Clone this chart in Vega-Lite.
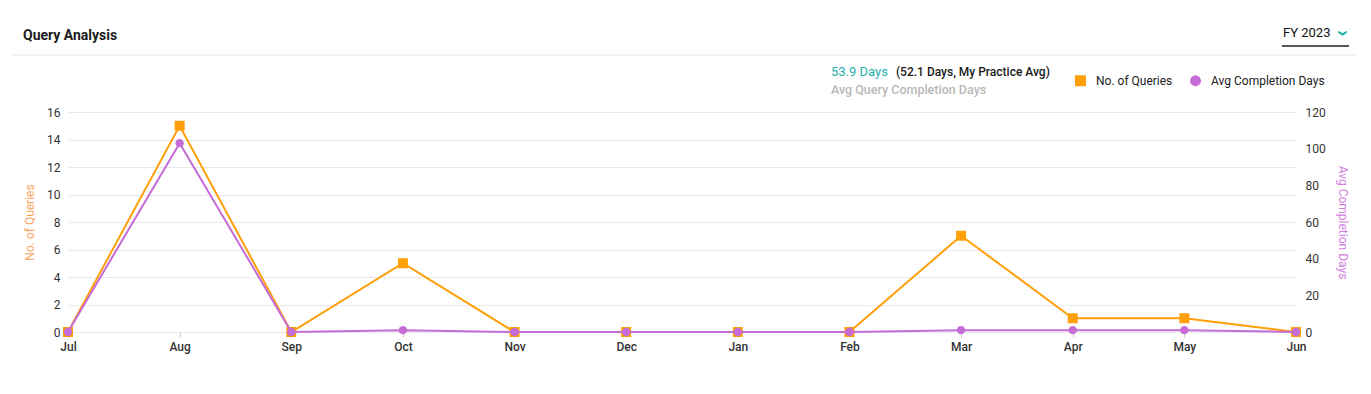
{
  "$schema": "https://vega.github.io/schema/vega-lite/v6.json",
  "width": 1228,
  "height": 220,
  "autosize": {"type": "none"},
  "padding": {"left": 68, "top": 112, "right": 75, "bottom": 62},
  "background": "white",
  "config": {
    "font": "Roboto",
    "view": {"stroke": null},
    "legend": {
      "orient": "none",
      "legendX": 1006,
      "legendY": -38,
      "direction": "horizontal",
      "labelFontSize": 12,
      "labelColor": "#222222",
      "labelFont": "Roboto",
      "symbolSize": 120,
      "columnPadding": 16,
      "labelOffset": 9,
      "padding": 0
    }
  },
  "data": {
    "values": [
      {"month": "Jul", "queries": 0, "avg_days": 0},
      {"month": "Aug", "queries": 15, "avg_days": 103},
      {"month": "Sep", "queries": 0, "avg_days": 0},
      {"month": "Oct", "queries": 5, "avg_days": 1},
      {"month": "Nov", "queries": 0, "avg_days": 0},
      {"month": "Dec", "queries": 0, "avg_days": 0},
      {"month": "Jan", "queries": 0, "avg_days": 0},
      {"month": "Feb", "queries": 0, "avg_days": 0},
      {"month": "Mar", "queries": 7, "avg_days": 1},
      {"month": "Apr", "queries": 1, "avg_days": 1},
      {"month": "May", "queries": 1, "avg_days": 1},
      {"month": "Jun", "queries": 0, "avg_days": 0},
      {"note": "title", "label": "Query Analysis", "month": "Jul", "queries": 0, "avg_days": 0},
      {"note": "fy", "label": "FY 2023", "month": "Jul", "queries": 0, "avg_days": 0},
      {"note": "chevron", "label": "›", "month": "Jul", "queries": 0, "avg_days": 0},
      {"note": "avg", "label": "53.9 Days", "month": "Jul", "queries": 0, "avg_days": 0},
      {"note": "practice", "label": "(52.1 Days, My Practice Avg)", "month": "Jul", "queries": 0, "avg_days": 0},
      {"note": "caption", "label": "Avg Query Completion Days", "month": "Jul", "queries": 0, "avg_days": 0}
    ]
  },
  "encoding": {
    "x": {
      "field": "month",
      "type": "ordinal",
      "scale": {"type": "point", "padding": 0, "domain": ["Jul","Aug","Sep","Oct","Nov","Dec","Jan","Feb","Mar","Apr","May","Jun"]},
      "axis": {
        "title": null,
        "labelAngle": 0,
        "labelFontSize": 12,
        "labelFontWeight": 500,
        "labelColor": "#333333",
        "tickColor": "#cccccc",
        "tickSize": 5,
        "domain": false,
        "grid": false,
        "labelPadding": 4
      }
    }
  },
  "layer": [
    {
      "encoding": {
        "y": {
          "field": "queries",
          "type": "quantitative",
          "scale": {"domain": [0, 16], "nice": false},
          "axis": {
            "orient": "left",
            "values": [0, 2, 4, 6, 8, 10, 12, 14, 16],
            "title": "No. of Queries",
            "titleColor": "#f8a460",
            "titleFontWeight": "normal",
            "titleFontSize": 12,
            "titlePadding": 10,
            "labelFontSize": 12,
            "labelColor": "#333333",
            "domain": false,
            "ticks": false,
            "labelPadding": 8,
            "gridColor": "#e9e9e9"
          }
        }
      },
      "layer": [
        {
          "transform": [{"filter": "!isValid(datum.note)"}],
          "mark": {"type": "line", "color": "#ff9f0a", "strokeWidth": 2}
        },
        {
          "transform": [{"filter": "!isValid(datum.note)"}],
          "mark": {"type": "point", "filled": true, "size": 100, "opacity": 1},
          "encoding": {
            "color": {
              "datum": "No. of Queries",
              "scale": {"domain": ["No. of Queries", "Avg Completion Days"], "range": ["#ff9f0a", "#c56cd6"]},
              "legend": {
                "title": null,
                "encode": {
                  "symbols": {
                    "update": {
                      "fill": {"signal": "datum.value === 'Avg Completion Days' ? 'white' : '#ff9f0a'"},
                      "stroke": {"signal": "datum.value === 'Avg Completion Days' ? '#c56cd6' : '#ff9f0a'"},
                      "strokeWidth": {"signal": "datum.value === 'Avg Completion Days' ? 3 : 0"}
                    }
                  }
                }
              }
            },
            "shape": {
              "datum": "No. of Queries",
              "scale": {"domain": ["No. of Queries", "Avg Completion Days"], "range": ["square", "circle"]},
              "legend": {"title": null}
            }
          }
        },
        {
          "transform": [{"filter": {"field": "note", "equal": "title"}}],
          "mark": {"type": "text", "align": "left", "baseline": "middle", "fontSize": 14, "fontWeight": "bold", "color": "#1b1b1b", "xOffset": -45, "yOffset": -76},
          "encoding": {"x": {"datum": "Jul"}, "y": {"datum": 16}, "text": {"field": "label"}}
        },
        {
          "transform": [{"filter": {"field": "note", "equal": "fy"}}],
          "mark": {"type": "text", "align": "left", "baseline": "middle", "fontSize": 13, "color": "#111111", "xOffset": -13, "yOffset": -79},
          "encoding": {"x": {"datum": "Jun"}, "y": {"datum": 16}, "text": {"field": "label"}}
        },
        {
          "transform": [{"filter": {"field": "note", "equal": "chevron"}}],
          "mark": {"type": "text", "align": "center", "baseline": "middle", "fontSize": 22, "fontWeight": "bold", "angle": 90, "color": "#1fb2ac", "xOffset": 48, "yOffset": -79},
          "encoding": {"x": {"datum": "Jun"}, "y": {"datum": 16}, "text": {"field": "label"}}
        },
        {
          "transform": [{"filter": {"field": "note", "equal": "fy"}}],
          "mark": {"type": "rule", "color": "#222222", "strokeWidth": 1.5, "xOffset": -14, "x2Offset": 53, "yOffset": -66},
          "encoding": {"x": {"datum": "Jun"}, "x2": {"datum": "Jun"}, "y": {"datum": 16}}
        },
        {
          "transform": [{"filter": {"field": "note", "equal": "title"}}],
          "mark": {"type": "rule", "color": "#e3e3e3", "strokeWidth": 1, "xOffset": -57, "x2Offset": 61, "yOffset": -57},
          "encoding": {"x": {"datum": "Jul"}, "x2": {"datum": "Jun"}, "y": {"datum": 16}}
        },
        {
          "transform": [{"filter": {"field": "note", "equal": "avg"}}],
          "mark": {"type": "text", "align": "left", "baseline": "middle", "fontSize": 13, "fontWeight": "normal", "color": "#1fb0aa", "xOffset": -18.5, "yOffset": -40},
          "encoding": {"x": {"datum": "Feb"}, "y": {"datum": 16}, "text": {"field": "label"}}
        },
        {
          "transform": [{"filter": {"field": "note", "equal": "practice"}}],
          "mark": {"type": "text", "align": "left", "baseline": "middle", "fontSize": 12, "fontWeight": 500, "color": "#1a1a1a", "xOffset": 46.5, "yOffset": -40},
          "encoding": {"x": {"datum": "Feb"}, "y": {"datum": 16}, "text": {"field": "label"}}
        },
        {
          "transform": [{"filter": {"field": "note", "equal": "caption"}}],
          "mark": {"type": "text", "align": "left", "baseline": "middle", "fontSize": 12.5, "fontWeight": 500, "color": "#b8b8b8", "xOffset": -18.5, "yOffset": -22},
          "encoding": {"x": {"datum": "Feb"}, "y": {"datum": 16}, "text": {"field": "label"}}
        }
      ]
    },
    {
      "transform": [{"filter": "!isValid(datum.note)"}],
      "encoding": {
        "y": {
          "field": "avg_days",
          "type": "quantitative",
          "scale": {"domain": [0, 120], "nice": false},
          "axis": {
            "orient": "right",
            "values": [0, 20, 40, 60, 80, 100, 120],
            "title": "Avg Completion Days",
            "titleColor": "#d07fdd",
            "titleFontWeight": "normal",
            "titleFontSize": 12,
            "titlePadding": 10,
            "labelFontSize": 12,
            "labelColor": "#333333",
            "domain": false,
            "ticks": false,
            "grid": false,
            "labelPadding": 9
          }
        }
      },
      "layer": [
        {"mark": {"type": "line", "color": "#c56cd6", "strokeWidth": 2}},
        {
          "mark": {"type": "point", "filled": true, "size": 70, "opacity": 1},
          "encoding": {
            "color": {"datum": "Avg Completion Days"},
            "shape": {"datum": "Avg Completion Days"}
          }
        }
      ]
    }
  ],
  "resolve": {"scale": {"y": "independent"}}
}
